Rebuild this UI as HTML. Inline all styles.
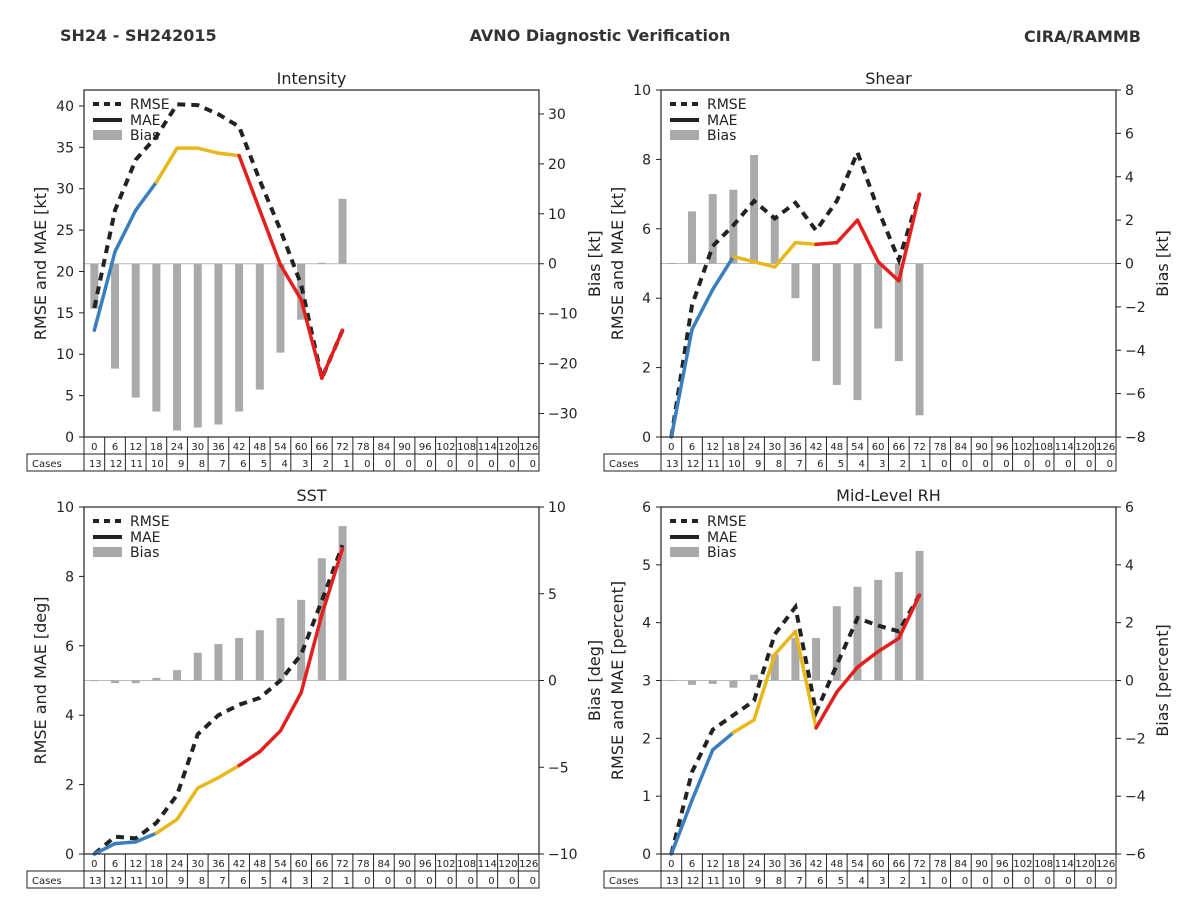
<!DOCTYPE html>
<html><head><meta charset="utf-8"><style>
body{margin:0;background:#fff;}
svg{display:block;font-family:"DejaVu Sans","Liberation Sans",sans-serif;}
</style></head><body>
<svg id="s" width="1200" height="900" viewBox="0 0 1200 900" xmlns="http://www.w3.org/2000/svg">
<text x="60" y="41" font-size="16" font-weight="bold" fill="#333">SH24 - SH242015</text>
<text x="600" y="41" font-size="16" font-weight="bold" fill="#333" text-anchor="middle">AVNO Diagnostic Verification</text>
<text x="1141" y="42" font-size="16" font-weight="bold" fill="#333" text-anchor="end">CIRA/RAMMB</text>
</svg>
<script>
const hours=[0,6,12,18,24,30,36,42,48,54,60,66,72,78,84,90,96,102,108,114,120,126];
const cases=[13,12,11,10,9,8,7,6,5,4,3,2,1,0,0,0,0,0,0,0,0,0];
const intRmse=[15.6,27.4,33.5,36.3,40.2,40.1,39,37.5,31,25,18.4,7.1,12.9];
const intMae=[12.9,22.4,27.4,30.8,34.9,34.9,34.3,34,27.4,20.8,16.6,7.1,12.9];
const intBias=[-9,-21,-26.8,-29.6,-33.4,-32.8,-32.2,-29.6,-25.2,-17.8,-11.2,0.2,13];
const shrRmse=[0,3.8,5.5,6.1,6.8,6.3,6.75,5.95,6.8,8.2,6.55,5.1,7.0];
const shrMae=[0,3.1,4.25,5.2,5.05,4.9,5.6,5.55,5.6,6.25,5.05,4.5,7.0];
const shrBias=[0.02,2.4,3.2,3.4,5.0,2.1,-1.6,-4.5,-5.6,-6.3,-3.0,-4.5,-7.0];
const sstRmse=[0,0.5,0.45,0.9,1.7,3.45,4.0,4.3,4.5,5.0,5.75,7.3,8.9];
const sstMae=[0,0.3,0.35,0.6,1.0,1.9,2.2,2.55,2.95,3.55,4.65,6.9,8.8];
const sstBias=[0.02,-0.15,-0.15,0.15,0.6,1.6,2.1,2.45,2.9,3.6,4.65,7.05,8.9];
const rhRmse=[0,1.42,2.15,2.4,2.65,3.8,4.27,2.45,3.27,4.08,3.95,3.85,4.48];
const rhMae=[0,0.93,1.8,2.1,2.32,3.45,3.85,2.18,2.8,3.23,3.5,3.73,4.48];
const rhBias=[0.02,-0.15,-0.12,-0.25,0.2,0.9,1.47,1.47,2.57,3.24,3.48,3.75,4.48];
const leftTicksInt=[0,5,10,15,20,25,30,35,40];
const rightTicksInt=[-30,-20,-10,0,10,20,30];
const leftTicksShr=[0,2,4,6,8,10];
const rightTicksShr=[-8,-6,-4,-2,0,2,4,6,8];
const leftTicksSst=[0,2,4,6,8,10];
const rightTicksSst=[-10,-5,0,5,10];
const leftTicksRh=[0,1,2,3,4,5,6];
const rightTicksRh=[-6,-4,-2,0,2,4,6];

const NS="http://www.w3.org/2000/svg";
const svg=document.getElementById('s');
function mk(tag,attrs,parent,txt){const e=document.createElementNS(NS,tag);for(const k in attrs)e.setAttribute(k,attrs[k]);if(txt!==undefined)e.textContent=txt;(parent||svg).appendChild(e);return e;}

function panel(o){
  const g=mk('g',{});
  
  
  const L=o.x,T=o.y,W=455,H=347,R=L+W,B=T+H;
  const cw=W/hours.length;
  const xc=i=>L+cw*(i+0.5);
  const yl=v=>B-(v-o.lmin)/(o.lmax-o.lmin)*H;
  const yr=v=>B-(v-o.rmin)/(o.rmax-o.rmin)*H;
  // zero line
  const z=mk('line',{x1:L,x2:R,y1:yr(0),y2:yr(0),stroke:'#bbb','stroke-width':1},g);
  
  
  // bars
  o.bias.forEach((v,i)=>{
    const y0=yr(0),y1=yr(v);
    const b=mk('rect',{x:xc(i)-4,y:Math.min(y0,y1),width:8,height:Math.max(Math.abs(y1-y0),1),fill:'#aaa'},g);
    
    
  });
  // rmse
  const pts=o.rmse.map((v,i)=>xc(i)+','+yl(v)).join(' ');
  const rl=mk('polyline',{points:pts,fill:'none',stroke:'#222','stroke-width':4,'stroke-dasharray':'8,6'},g);
  
  
  // mae segments
  for(let i=0;i<o.mae.length-1;i++){
    const c=cases[i+1];
    const col=c>=10?'#3a7fbd':(c>=6?'#e8b81a':'#e3201e');
    const s=mk('line',{x1:xc(i),y1:yl(o.mae[i]),x2:xc(i+1),y2:yl(o.mae[i+1]),stroke:col,'stroke-width':3.5,'stroke-linecap':'round'},g);
    
    
  }
  // frame
  const f=mk('rect',{x:L,y:T,width:W,height:H,fill:'none',stroke:'#222','stroke-width':1.2},g);
  
  
  // ticks
  o.lt.forEach(v=>{
    mk('line',{x1:L-5,x2:L,y1:yl(v),y2:yl(v),stroke:'#222'},g);
    const t=mk('text',{x:L-10,y:yl(v)+5,'font-size':14,'text-anchor':'end',fill:'#222'},g,String(v));
    
    
  });
  o.rt.forEach(v=>{
    mk('line',{x1:R,x2:R+5,y1:yr(v),y2:yr(v),stroke:'#222'},g);
    const t=mk('text',{x:R+9,y:yr(v)+5,'font-size':14,fill:'#222'},g,(v<0?'\u2212'+(-v):String(v)));
    
    
  });
  const ti=mk('text',{x:L+W/2,y:T-6,'font-size':16,'text-anchor':'middle',fill:'#222'},g,o.title);
  
  
  const la=mk('text',{x:0,y:0,'font-size':16,'text-anchor':'middle',fill:'#222',transform:`translate(${L-38},${T+H/2}) rotate(-90)`},g,o.ll);
  
  
  const ra=mk('text',{x:0,y:0,'font-size':16,'text-anchor':'middle',fill:'#222',transform:`translate(${R+o.rlx},${yr(0)}) rotate(-90)`},g,o.rl);
  
  
  // legend
  const lg=mk('g',{},g);
  
  
  mk('line',{x1:L+9,x2:L+38,y1:T+14,y2:T+14,stroke:'#222','stroke-width':4,'stroke-dasharray':'6,5'},lg);
  mk('line',{x1:L+9,x2:L+38,y1:T+30,y2:T+30,stroke:'#222','stroke-width':4},lg);
  mk('rect',{x:L+9,y:T+40,width:29,height:10,fill:'#aaa'},lg);
  [['RMSE',19],['MAE',35],['Bias',50]].forEach(a=>mk('text',{x:L+46,y:T+a[1],'font-size':14,fill:'#222'},lg,a[0]));
  // table
  const tb=mk('g',{},g);
  
  
  mk('rect',{x:L,y:B,width:W,height:17,fill:'none',stroke:'#222'},tb);
  mk('rect',{x:L-57,y:B+17,width:W+57,height:17,fill:'none',stroke:'#222'},tb);
  mk('line',{x1:L,x2:L,y1:B,y2:B+34,stroke:'#222'},tb);
  mk('text',{x:L-52,y:B+30,'font-size':10,fill:'#222'},tb,'Cases');
  hours.forEach((h,i)=>{
    const x0=L+cw*i;
    if(i>0)mk('line',{x1:x0,x2:x0,y1:B,y2:B+34,stroke:'#222'},tb);
    mk('text',{x:xc(i),y:B+13,'font-size':10,'text-anchor':'middle',fill:'#222'},tb,String(h));
    mk('text',{x:x0+cw-3,y:B+30,'font-size':10,'text-anchor':'end',fill:'#222'},tb,String(cases[i]));
  });
}
panel({name:'intensity',x:84,y:90,title:'Intensity',rmse:intRmse,mae:intMae,bias:intBias,lmin:0,lmax:41.93,rmin:-34.7,rmax:34.8,lt:leftTicksInt,rt:rightTicksInt,ll:'RMSE and MAE [kt]',rl:'Bias [kt]',rlx:61});
panel({name:'shear',x:661,y:90,title:'Shear',rmse:shrRmse,mae:shrMae,bias:shrBias,lmin:0,lmax:10,rmin:-8,rmax:8,lt:leftTicksShr,rt:rightTicksShr,ll:'RMSE and MAE [kt]',rl:'Bias [kt]',rlx:52});
panel({name:'sst',x:84,y:507,title:'SST',rmse:sstRmse,mae:sstMae,bias:sstBias,lmin:0,lmax:10,rmin:-10,rmax:10,lt:leftTicksSst,rt:rightTicksSst,ll:'RMSE and MAE [deg]',rl:'Bias [deg]',rlx:61});
panel({name:'mid-level-rh',x:661,y:507,title:'Mid-Level RH',rmse:rhRmse,mae:rhMae,bias:rhBias,lmin:0,lmax:6,rmin:-6,rmax:6,lt:leftTicksRh,rt:rightTicksRh,ll:'RMSE and MAE [percent]',rl:'Bias [percent]',rlx:52});
</script>
</body></html>
